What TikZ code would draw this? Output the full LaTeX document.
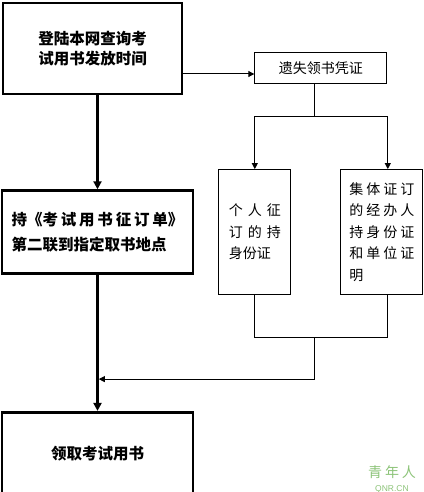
\documentclass[tikz,border=0pt]{standalone}
\usepackage{fontspec}
\setmainfont{Liberation Sans}
\newfontfamily\cjk{Noto Sans CJK SC}
\usetikzlibrary{arrows.meta, positioning}
\definecolor{markgreen}{RGB}{140,195,120}
\tikzstyle{mainbox} = [rectangle, minimum width=191pt, minimum height=83pt, inner sep=0pt,
    align=center, draw=black, line width=2.6pt, font=\cjk\bfseries\fontsize{15.5}{20}\selectfont]
\tikzstyle{smallbox} = [rectangle, minimum width=132pt, minimum height=31pt, inner sep=0pt,
    align=center, draw=black, line width=1pt, font=\cjk\fontsize{14}{21.5}\selectfont]
\tikzstyle{sidebox} = [smallbox, minimum width=72pt, minimum height=125pt, align=left]
\tikzstyle{arrow} = [line width=1pt, -{Triangle[length=6pt,width=6pt]}]
\tikzstyle{mainarrow} = [line width=2.6pt, -{Triangle[length=8pt,width=8pt]}]

\begin{document}
\begin{tikzpicture}[x=1pt, y=1pt]
\useasboundingbox (0,0) rectangle (423,-492);
\node (query) [mainbox, minimum width=179pt, minimum height=91pt] at (92.5,-48.5) {登陆本网查询考\\试用书发放时间};
\node (collect) [mainbox, below=94pt of query, xshift=5pt, align=left, text width=172pt,
    font=\cjk\bfseries\fontsize{15.5}{25}\selectfont] {持《考\hfill 试\hfill 用\hfill 书\hfill 征\hfill 订\hfill 单》\\第二联到指定取书地点};
\node (receive) [mainbox, below=136pt of collect] {领取考试用书};
\node (lost) [smallbox, right=71pt of query, yshift=-20pt] {遗失领书凭证};
\node (personal) [sidebox, text width=52pt, right=24pt of collect] {个\hfill 人\hfill 征\\订\hfill 的\hfill 持\\身份证};
\node (group) [sidebox, minimum width=82pt, text width=65pt, right=49pt of personal]
    {集\hfill 体\hfill 证\hfill 订\\的\hfill 经\hfill 办\hfill 人\\持\hfill 身\hfill 份\hfill 证\\和\hfill 单\hfill 位\hfill 证\\明};
\node (mark) [text=markgreen, font=\cjk\fontsize{14}{14}\selectfont] at (392,-472) {青\hspace{3pt}年\hspace{3pt}人};
\node (site) [text=markgreen, font=\fontsize{8.5}{8.5}\selectfont, below=0pt of mark] {QNR.CN};

\coordinate (lostin) at ([yshift=-5.5pt]lost.west);
\coordinate (split) at ([xshift=-6pt,yshift=-32pt]lost.south);
\coordinate (grpin) at ([xshift=6pt]group.north);
\coordinate (grpout) at ([xshift=6pt]group.south);
\path (personal.south -| split) ++(0,-42) coordinate (join);
\path (join) ++(0,-42) coordinate (merge);

\draw[mainarrow] (query.south -| collect.north) -- (collect.north);
\draw[mainarrow] (collect) -- (receive);
\draw[arrow] (query.east |- lostin) -- (lostin);
\draw[line width=1pt] (lost.south -| split) -- (split);
\draw[line width=1pt] (personal.north |- split) -- (grpin |- split);
\draw[arrow] (personal.north |- split) -- (personal.north);
\draw[arrow] (grpin |- split) -- (grpin);
\draw[line width=1pt] (personal.south) |- (grpout |- join) -- (grpout);
\draw[line width=1pt] (join) -- (merge);
\draw[arrow, shorten >=1.3pt] (merge) -- (merge -| collect.south);
\end{tikzpicture}
\end{document}
